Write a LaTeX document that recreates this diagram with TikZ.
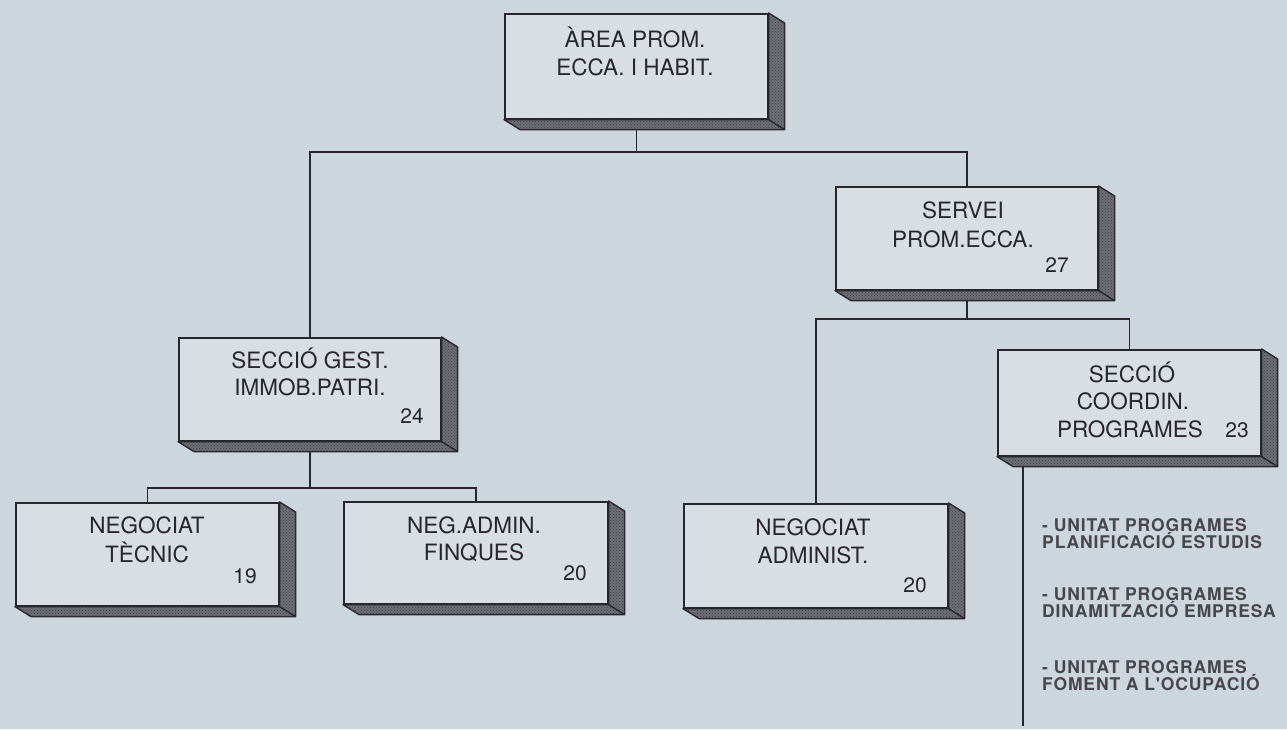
\documentclass[tikz,border=0pt]{standalone}
\usepackage{fontspec}
\setmainfont{TeX Gyre Heros}
\newfontfamily\lblfont{TeX Gyre Heros}
\newfontfamily\unitfont[LetterSpace=5]{TeX Gyre Heros}
\usetikzlibrary{calc,patterns}
\definecolor{bgc}{RGB}{205,213,221}
\definecolor{facec}{RGB}{216,222,228}
\definecolor{inkc}{RGB}{38,38,43}
\definecolor{shadec}{RGB}{110,110,118}
\tikzset{
  face/.style={draw=inkc, line width=1.6pt, fill=facec, anchor=north west, inner sep=0pt},
  side/.style={fill=shadec, draw=inkc, line width=1.4pt, line join=round,
    postaction={pattern=crosshatch dots, pattern color=black!75}},
  sideedge/.style={draw=inkc, line width=1.4pt},
  conn/.style={draw=inkc, line width=1.6pt},
  lbl/.style={font=\lblfont\fontsize{22.5}{27}\selectfont, text=inkc, anchor=base, inner sep=0pt},
  num/.style={font=\lblfont\fontsize{21}{25}\selectfont, text=inkc, anchor=base, inner sep=0pt},
  unit/.style={font=\unitfont\bfseries\fontsize{17.5}{21}\selectfont, text=inkc!85, anchor=base west, inner sep=0pt},
}
\newcommand\ebox[5]{%
  \node[face, minimum width={(#4-#2)*1pt}, minimum height={(#5-#3)*1pt}] (#1) at (#2,#3) {};
  \path[side] (#1.north east) -- ++(16,10) -- ($(#1.south east)+(16,10)$)
     -- ($(#1.south west)+(16,10)$) -- (#1.south west) -- (#1.south east) -- cycle;
  \draw[sideedge] (#1.south east) -- ++(16,10);
}
\begin{document}
\begin{tikzpicture}[x=1pt,y=-1pt]
\fill[bgc] (0,0) rectangle (1287,729);
\useasboundingbox (0,0) rectangle (1287,729);

\ebox{top}{504}{13}{767}{118}
\ebox{servei}{835}{186}{1097}{289}
\ebox{sgest}{178}{337}{440}{440}
\ebox{scoord}{997}{349}{1260}{455}
\ebox{ntec}{15}{502}{278}{605}
\ebox{nadm}{343}{501}{607}{603}
\ebox{nadmi}{683}{503}{947}{607}

% connectors
\coordinate (bar1) at (0,152);
\coordinate (bar2) at (0,319);
\coordinate (bar3) at (0,488);
\coordinate (bottomy) at (0,726);
\coordinate (topb) at ($(top.south)+(0,10)$);
\coordinate (serveib) at ($(servei.south)+(0,10)$);
\coordinate (sgestb) at ($(sgest.south)+(0,10)$);
\coordinate (scoordb) at ($(scoord.south west)+(26,10)$);

\draw[conn] (topb) -- (topb |- bar1);
\draw[conn] (sgest.north) -- (sgest.north |- bar1) -- (servei.north |- bar1) -- (servei.north);
\draw[conn] (serveib) -- (serveib |- bar2);
\draw[conn] (nadmi.north) -- (nadmi.north |- bar2) -- (scoord.north |- bar2) -- (scoord.north);
\draw[conn] (sgestb) -- (sgestb |- bar3);
\draw[conn] (ntec.north) -- (ntec.north |- bar3) -- (nadm.north |- bar3) -- (nadm.north);
\draw[conn] (scoordb) -- (scoordb |- bottomy);

% labels
\node[lbl] (t1) at (635,47) {ÀREA PROM.};
\node[lbl] (t2) at (635,75) {ECCA. I HABIT.};

\node[lbl] (s1) at (963,218) {SERVEI};
\node[lbl] (s2) at (963,247) {PROM.ECCA.};
\node[num] (s3) at (1057,272) {27};

\node[lbl] (g1) at (310,368) {SECCIÓ GEST.};
\node[lbl] (g2) at (310,395) {IMMOB.PATRI.};
\node[num] (g3) at (412,423) {24};

\node[lbl] (c1) at (1132,382) {SECCIÓ};
\node[lbl] (c2) at (1133,409) {COORDIN.};
\node[lbl] (c3) at (1130,437) {PROGRAMES};
\node[num] (c4) at (1237,437) {23};

\node[lbl] (n1) at (147,533) {NEGOCIAT};
\node[lbl] (n2) at (147,562) {TÈCNIC};
\node[num] (n3) at (245,583) {19};

\node[lbl] (a1) at (474,533) {NEG.ADMIN.};
\node[lbl] (a2) at (474,560) {FINQUES};
\node[num] (a3) at (575,580) {20};

\node[lbl] (d1) at (813,535) {NEGOCIAT};
\node[lbl] (d2) at (813,563) {ADMINIST.};
\node[num] (d3) at (915,592) {20};

\node[unit] (u1) at (1042,531) {- UNITAT PROGRAMES};
\node[unit] (u2) at (1042,548) {PLANIFICACIÓ ESTUDIS};
\node[unit] (u3) at (1042,600) {- UNITAT PROGRAMES};
\node[unit] (u4) at (1042,617) {DINAMITZACIÓ EMPRESA};
\node[unit] (u5) at (1042,673) {- UNITAT PROGRAMES};
\node[unit] (u6) at (1042,690) {FOMENT A L'OCUPACIÓ};
\end{tikzpicture}
\end{document}
